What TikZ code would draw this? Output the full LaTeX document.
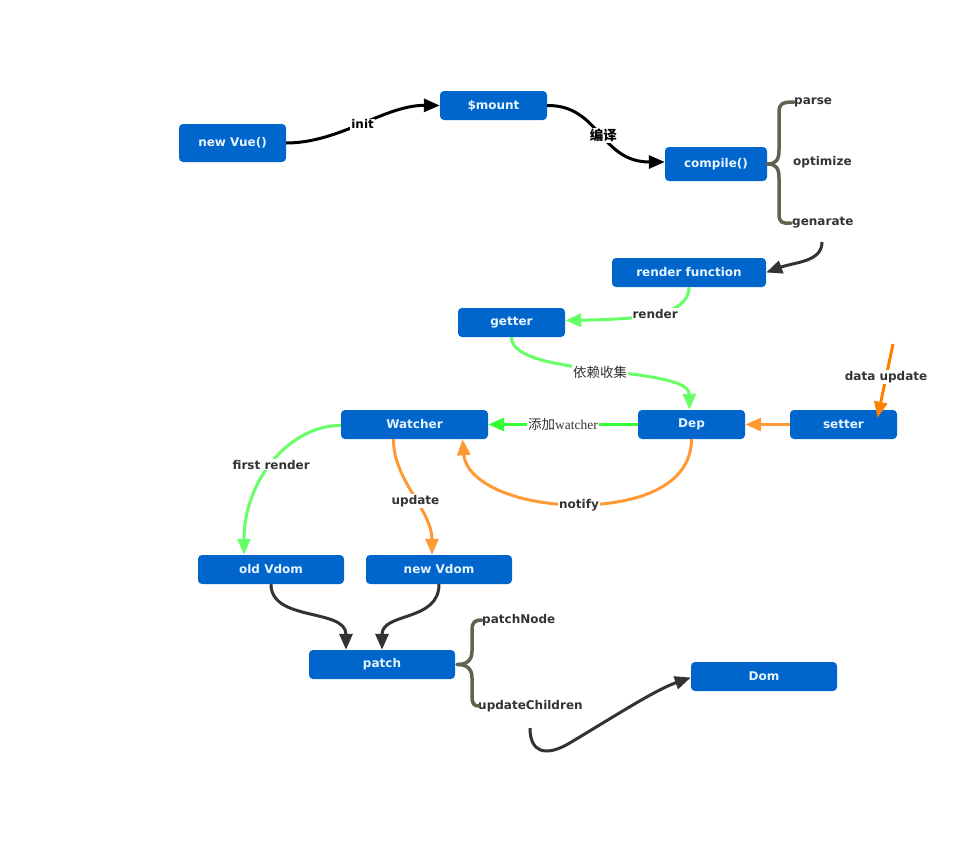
\documentclass[tikz,border=0pt]{standalone}
\usepackage{fontspec}
\setmainfont{DejaVu Sans}
\newfontfamily\cjk{Noto Sans CJK SC}
\newfontfamily\serifw{Liberation Serif}
\usetikzlibrary{arrows.meta}
\definecolor{boxblue}{HTML}{0066CC}
\definecolor{boxtext}{HTML}{E6F4FF}
\definecolor{lbl}{HTML}{333333}
\definecolor{lgreen}{HTML}{66FF66}
\definecolor{bgreen}{HTML}{33FF33}
\definecolor{lorange}{HTML}{FF9933}
\definecolor{dorange}{HTML}{FF7F00}
\definecolor{dark}{HTML}{333333}
\definecolor{brace}{HTML}{5E6450}
\tikzset{
  box/.style={draw=none,fill=boxblue,rounded corners=4pt,text=boxtext,font=\bfseries\fontsize{12}{14}\selectfont,inner sep=0pt,minimum height=29pt},
  lab/.style={fill=white,text=lbl,font=\bfseries\fontsize{12}{14}\selectfont,inner sep=1pt},
  cjklab/.style={lab,font=\cjk\fontsize{13.5}{15}\selectfont},
  blab/.style={text=lbl,font=\bfseries\fontsize{12}{14}\selectfont,inner sep=0pt,anchor=west},
  conn/.style={line width=3pt,-{Triangle[length=16pt,width=13pt]}},
  br/.style={line width=3.5pt,draw=brace,line cap=round}
}
\begin{document}
\begin{tikzpicture}[x=1pt,y=-1pt]
\useasboundingbox (0,0) rectangle (968,857);
% nodes
\node[box,minimum width=107pt,minimum height=38pt] (nv) at (232.5,143) {new Vue()};
\node[box,minimum width=107pt] (mount) at (493.5,105.5) {\$mount};
\node[box,minimum width=102pt,minimum height=34pt] (comp) at (716,164) {compile()};
\node[box,minimum width=154pt] (rf) at (689,272.5) {render function};
\node[box,minimum width=107pt] (get) at (511.5,322.5) {getter};
\node[box,minimum width=147pt] (wat) at (414.5,424.5) {Watcher};
\node[box,minimum width=107pt] (dep) at (691.5,424.5) {Dep};
\node[box,minimum width=107pt] (set) at (843.5,424.5) {setter};
\node[box,minimum width=146pt] (old) at (271,569.5) {old Vdom};
\node[box,minimum width=146pt] (new) at (439,569.5) {new Vdom};
\node[box,minimum width=146pt] (pat) at (382,664.5) {patch};
\node[box,minimum width=146pt] (dom) at (764,676.5) {Dom};
% brace labels
\node[blab] (parse) at (794,102) {parse};
\node[blab] (opt) at (793,162) {optimize};
\node[blab] (gen) at (792,223) {genarate};
\node[blab] (pn) at (482,620) {patchNode};
\node[blab] (uc) at (478,706) {updateChildren};
% braces
\draw[br] (comp.east) .. controls (776,164) and (779,160) .. (779,150) -- (779,112) .. controls (779,104) and (782,102) .. (parse.west);
\draw[br] (comp.east) .. controls (776,164) and (779,168) .. (779,178) -- (779,214) .. controls (779,222) and (782,224) .. ([xshift=-1pt]gen.west);
\draw[br] ([xshift=2pt]pat.east) .. controls (466,664.5) and (472,661) .. (472,651) -- (472,630) .. controls (472,622) and (475,620) .. (pn.west);
\draw[br] ([xshift=2pt]pat.east) .. controls (466,664.5) and (472,668) .. (472,678) -- (472,696) .. controls (472,704) and (474,706) .. ([xshift=1pt]uc.west);
% coordinates
\coordinate (genend) at (822,242);
\coordinate (ucend) at (530,728);
\coordinate (dustart) at (893,344);
% connectors
\draw[conn,black] (nv.east) .. controls (340,143) and (385,105) .. (mount.west) node[lab,pos=0.5,text=black] {init};
\draw[conn,black] (mount.east) .. controls (600,105) and (600,162) .. ([yshift=2pt]comp.west) node[cjklab,pos=0.52,text=black,font=\cjk\bfseries\fontsize{13.5}{15}\selectfont] {编译};
\draw[conn,dark] (genend) .. controls (822,262) and (795,262) .. (rf.east);
\draw[conn,lgreen] (rf.south) .. controls (689,316) and (640,319) .. ([yshift=2pt]get.east) node[lab,pos=0.5] {render};
\draw[conn,lgreen] (get.south) .. controls (511,378) and (689,365) .. ([xshift=-2pt]dep.north) node[cjklab,pos=0.5] {依赖收集};
\draw[conn,bgreen] (dep.west) -- (wat.east) node[cjklab,pos=0.5] {添加{\serifw\fontsize{13.5}{15}\selectfont watcher}};
\draw[conn,lorange] (dep.south) .. controls (691,492) and (625,505) .. (579,505) node[lab] {notify} .. controls (515,505) and (466,482) .. ([xshift=48pt]wat.south);
\draw[conn,lorange] (set.west) -- (dep.east);
\draw[conn,dorange] (dustart) -- ([xshift=34pt,yshift=-8pt]set.north) node[lab,pos=0.45] {data update};
\draw[conn,lgreen] ([yshift=-1pt]wat.west) .. controls (290,425) and (244,480) .. ([xshift=-27pt]old.north) node[lab,pos=0.52] {first render};
\draw[conn,lorange] ([xshift=-21pt]wat.south) .. controls (393,480) and (432,510) .. ([xshift=-7pt]new.north) node[lab,pos=0.55] {update};
\draw[conn,dark] (old.south) .. controls (271,622) and (346,608) .. ([xshift=-36pt]pat.north);
\draw[conn,dark] (new.south) .. controls (439,622) and (382,612) .. (pat.north);
\draw[conn,dark] (ucend) .. controls (530,752) and (545,757) .. (568,744) .. controls (615,716) and (655,690) .. ([yshift=-1pt]dom.west);
\end{tikzpicture}
\end{document}
